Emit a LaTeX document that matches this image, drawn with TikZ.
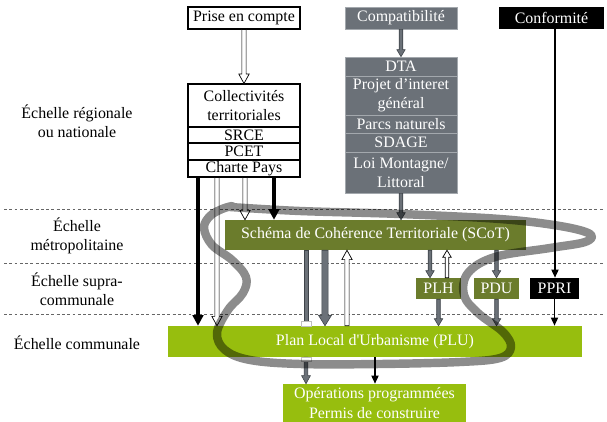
\documentclass[tikz,border=0pt]{standalone}
\usepackage{fontspec}
\setmainfont{Liberation Serif}
\usetikzlibrary{arrows.meta,calc}
\definecolor{gbox}{HTML}{6B7178}
\definecolor{gline}{HTML}{A3A8AD}
\definecolor{gdark}{HTML}{3E4349}
\definecolor{olive}{HTML}{6B7C2C}
\definecolor{lime}{HTML}{97BE0E}
\def\px{0.03cm}
% #1 style, #2 from, #3 to, #4 shaft half width, #5 head half width, #6 head length
\newcommand\fatarrow[6]{%
 \coordinate (fa) at (#2); \coordinate (fb) at (#3);
 \coordinate (hb) at ($(fb)!#6!(fa)$);
 \draw[#1] ($(fa)!#4!90:(fb)$) -- ($(hb)!#4!-90:(fa)$) -- ($(hb)!#5!-90:(fa)$) -- (fb)
   -- ($(hb)!#5!90:(fa)$) -- ($(hb)!#4!90:(fa)$) -- ($(fa)!#4!-90:(fb)$) -- cycle;}
\tikzset{
 wbox/.style={draw=black, line width=0.9pt, fill=white, inner sep=0pt, align=center},
 gcell/.style={draw=gline, line width=0.6pt, fill=gbox, text=white, inner sep=0pt, align=center},
 kbox/.style={fill=black, text=white, inner sep=0pt, align=center},
 obox/.style={fill=olive, text=white, inner sep=0pt, align=center},
 lbox/.style={fill=lime, text=white, inner sep=0pt, align=center},
 lab/.style={inner sep=0pt, align=center},
 sz/.style 2 args={minimum width=#1*\px, minimum height=#2*\px},
 level/.style={draw=black!60, line width=0.6pt, dash pattern=on 2.5pt off 2pt},
 band/.style={draw=black, opacity=0.45, line width=7.2pt, line cap=round, line join=round},
 blkbig/.style={line width=2.6pt, -{Triangle[width=9pt,length=9pt]}},
 blk/.style={line width=1.5pt, -{Triangle[width=6pt,length=7pt]}},
 hollowa/.style={draw=black, fill=white, line width=0.6pt, line join=miter},
 graya/.style={draw=gdark, fill=gbox, line width=0.5pt, line join=miter},
 tab/.style={draw=black!25, fill=white, line width=0.4pt},
}
\begin{document}
\begin{tikzpicture}[x=0.03cm,y=-0.03cm, font=\fontsize{13.6}{16.5}\selectfont]
\useasboundingbox (0,0) rectangle (607,422);
% level lines
\draw[level] (4,209) -- (603,209);
\draw[level] (4,263) -- (603,263);
\draw[level] (4,314) -- (603,314);
% level labels
\node[lab] (l1) at (77,121) {Échelle régionale\\ou nationale};
\node[lab] (l2) at (77,236) {Échelle\\métropolitaine};
\node[lab] (l3) at (77,289) {Échelle supra-\\communale};
\node[lab] (l4) at (77,343) {Échelle communale};
% top boxes
\node[wbox, sz={112}{22}] (prise) at (244,18) {Prise en compte};
\node[gcell, sz={112}{22}] (compat) at (401,18) {Compatibilité};
\node[kbox, sz={105}{22}] (conf) at (551.5,18) {Conformité};
% left stack
\node[wbox, sz={112}{43}] (coll) at (244,105.5) {Collectivités\\territoriales};
\node[wbox, sz={112}{16}] (srce) at (244,135) {SRCE};
\node[wbox, sz={112}{17}] (pcet) at (244,151.5) {PCET};
\node[wbox, sz={112}{17}] (charte) at (244,168.5) {Charte Pays};
% gray stack
\node[gcell, sz={112}{19}] (dta) at (401,66.5) {DTA};
\node[gcell, sz={112}{39}] (pig) at (401,95.5) {Projet d’interet\\général};
\node[gcell, sz={112}{18}] (parcs) at (401,124) {Parcs naturels};
\node[gcell, sz={112}{19}] (sdage) at (401,142.5) {SDAGE};
\node[gcell, sz={112}{41}] (loi) at (401,172.5) {Loi Montagne/\\Littoral};
% lower boxes
\node[obox, sz={301}{30}] (scot) at (375.5,235) {Schéma de Cohérence Territoriale (SCoT)};
\node[obox, sz={45}{21}] (plh) at (438.5,288.5) {PLH};
\node[obox, sz={45}{21}] (pdu) at (496.5,288.5) {PDU};
\node[kbox, sz={49}{21}] (ppri) at (554.5,288.5) {PPRI};
\node[lbox, sz={414}{31}] (plu) at (375,341.5) {Plan Local d\textquotesingle Urbanisme (PLU)};
\node[lbox, sz={183}{38}] (ops) at (374.5,403) {Opérations programmées\\Permis de construire};
% columns
\coordinate (c1) at (198,0);
\coordinate (c2) at (217,0);
\coordinate (c3) at (245,0);
\coordinate (c4) at (274,0);
\coordinate (c5) at (306,0);
\coordinate (c6) at (325,0);
\coordinate (c7) at (347,0);
\coordinate (c8) at (375,0);
\coordinate (c9) at (430,0);
\coordinate (c10) at (447,0);
\coordinate (c13) at (555,0);
\coordinate (c14) at (244,0);
% arrows
\fatarrow{hollowa}{c14 |- prise.south}{c14 |- coll.north}{1.8pt}{4.4pt}{8pt}
\fatarrow{graya}{compat.south}{dta.north}{1.5pt}{3.6pt}{6pt}
\fatarrow{graya}{loi.south}{loi.south |- scot.north}{1.5pt}{3.6pt}{6pt}
\draw[blk] (c13 |- conf.south) -- (c13 |- ppri.north);
\draw[blkbig] (c1 |- charte.south) -- (c1 |- plu.north);
\fatarrow{hollowa}{c2 |- charte.south}{c2 |- plu.north}{1.8pt}{4.4pt}{8pt}
\fatarrow{hollowa}{c3 |- charte.south}{c3 |- scot.north}{1.8pt}{4.4pt}{8pt}
\draw[blkbig] (c4 |- charte.south) -- (c4 |- scot.north);
\draw[graya] ([xshift=-1.6pt]c5 |- scot.south) rectangle ([xshift=1.6pt]c5 |- plu.north);
\fatarrow{graya}{c5 |- plu.south}{c5 |- ops.north}{1.6pt}{3.8pt}{7pt}
\coordinate (t1) at (c5 |- plu.north);
\coordinate (t2) at (c5 |- plu.south);
\draw[tab] ($(t1)+(-5,-5)$) rectangle ($(t1)+(5,0)$);
\draw[tab] ($(t2)+(-5,0)$) rectangle ($(t2)+(5,4)$);
\fatarrow{graya}{c6 |- scot.south}{c6 |- plu.north}{2.6pt}{5.6pt}{9pt}
\fatarrow{hollowa}{c7 |- plu.north}{c7 |- scot.south}{1.8pt}{4.4pt}{8pt}
\draw[blk] (c8 |- plu.south) -- (c8 |- ops.north);
\fatarrow{graya}{c9 |- scot.south}{c9 |- plh.north}{1.5pt}{3.6pt}{6pt}
\fatarrow{hollowa}{c10 |- plh.north}{c10 |- scot.south}{1.5pt}{3.6pt}{6pt}
\fatarrow{graya}{plh.south}{plh.south |- plu.north}{1.5pt}{3.6pt}{6pt}
\fatarrow{graya}{pdu.north |- scot.south}{pdu.north}{1.5pt}{3.6pt}{6pt}
\fatarrow{graya}{pdu.south}{pdu.south |- plu.north}{1.5pt}{3.6pt}{6pt}
\draw[blk] (ppri.south) -- (ppri.south |- plu.north);
% band
\draw[band] plot[smooth, tension=0.6] coordinates {
 (230,207) (300,211) (400,214) (500,219) (560,226) (590,234) (585,242) (550,248)
 (495,257) (468,273) (464,295) (478,313) (503,332) (511,347) (500,358) (460,362)
 (380,364) (300,364) (250,360) (225,350) (217,333) (228,310) (243,293) (246,277)
 (232,260) (212,245) (204,228) (210,216) (222,209) (232,206)};
\end{tikzpicture}
\end{document}
